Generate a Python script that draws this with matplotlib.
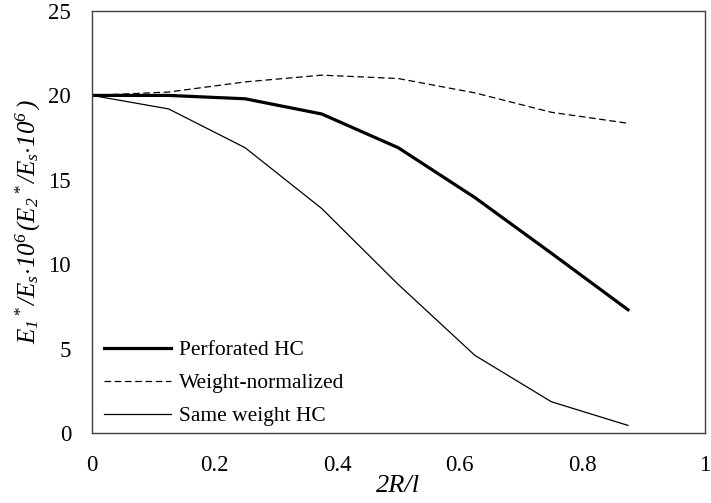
import matplotlib
matplotlib.use("Agg")
import matplotlib.pyplot as plt

plt.rcParams["font.family"] = ["Liberation Serif", "DejaVu Serif"]
plt.rcParams["mathtext.fontset"] = "custom"
plt.rcParams["mathtext.rm"] = "Liberation Serif:italic"
plt.rcParams["mathtext.it"] = "Liberation Serif:italic"
plt.rcParams["mathtext.bf"] = "Liberation Serif:bold"

# Normalised hole size 2R/l
ratio = [0.0, 0.125, 0.25, 0.375, 0.5, 0.625, 0.75, 0.875]

# Normalised in-plane stiffness
perforated = [20.0, 20.0, 19.8, 18.9, 16.9, 13.95, 10.65, 7.3]
weight_normalized = [20.0, 20.2, 20.8, 21.2, 21.0, 20.15, 19.0, 18.35]
same_weight = [20.0, 19.2, 16.9, 13.3, 8.8, 4.6, 1.85, 0.45]

labels = ["Perforated HC", "Weight-normalized", "Same weight HC"]

x_ticks = [0, 0.2, 0.4, 0.6, 0.8, 1]
x_tick_labels = ["0", "0.2", "0.4", "0.6", "0.8", "1"]
y_ticks = [0, 5, 10, 15, 20, 25]

fig = plt.figure(figsize=(7.11, 5.03), dpi=100)
ax = fig.add_axes([0.1294, 0.1392, 0.8615, 0.8389])

ax.plot(ratio, perforated, color="black", lw=2.3, label=labels[0])
ax.plot(ratio, weight_normalized, color="black", lw=0.9,
        dashes=(5.3, 2.9), label=labels[1])
ax.plot(ratio, same_weight, color="black", lw=0.9, label=labels[2])

ax.set_xlim(0, 1)
ax.set_ylim(0, 25)
ax.set_xticks(x_ticks)
ax.set_xticklabels(x_tick_labels)
ax.set_yticks(y_ticks)
ax.tick_params(length=0, labelsize=16.5)
ax.tick_params(axis="x", pad=16)
ax.tick_params(axis="y", pad=15)

for sp in ax.spines.values():
    sp.set_color("#404040")
    sp.set_linewidth(1.0)

ax.set_xlabel("2R/l", fontsize=19, style="italic", labelpad=-1)
ax.set_ylabel(r"$E_1{}^*/E_s{\cdot}10^6\,(E_2{}^*/E_s{\cdot}10^6\,)$",
              fontsize=18, labelpad=4)

ax.legend(loc="lower left", frameon=False, fontsize=15.5,
          handlelength=3.15, handletextpad=0.33, labelspacing=0.6,
          borderaxespad=0.0, bbox_to_anchor=(0.005, -0.004))

fig.savefig("out.png", dpi=100)
